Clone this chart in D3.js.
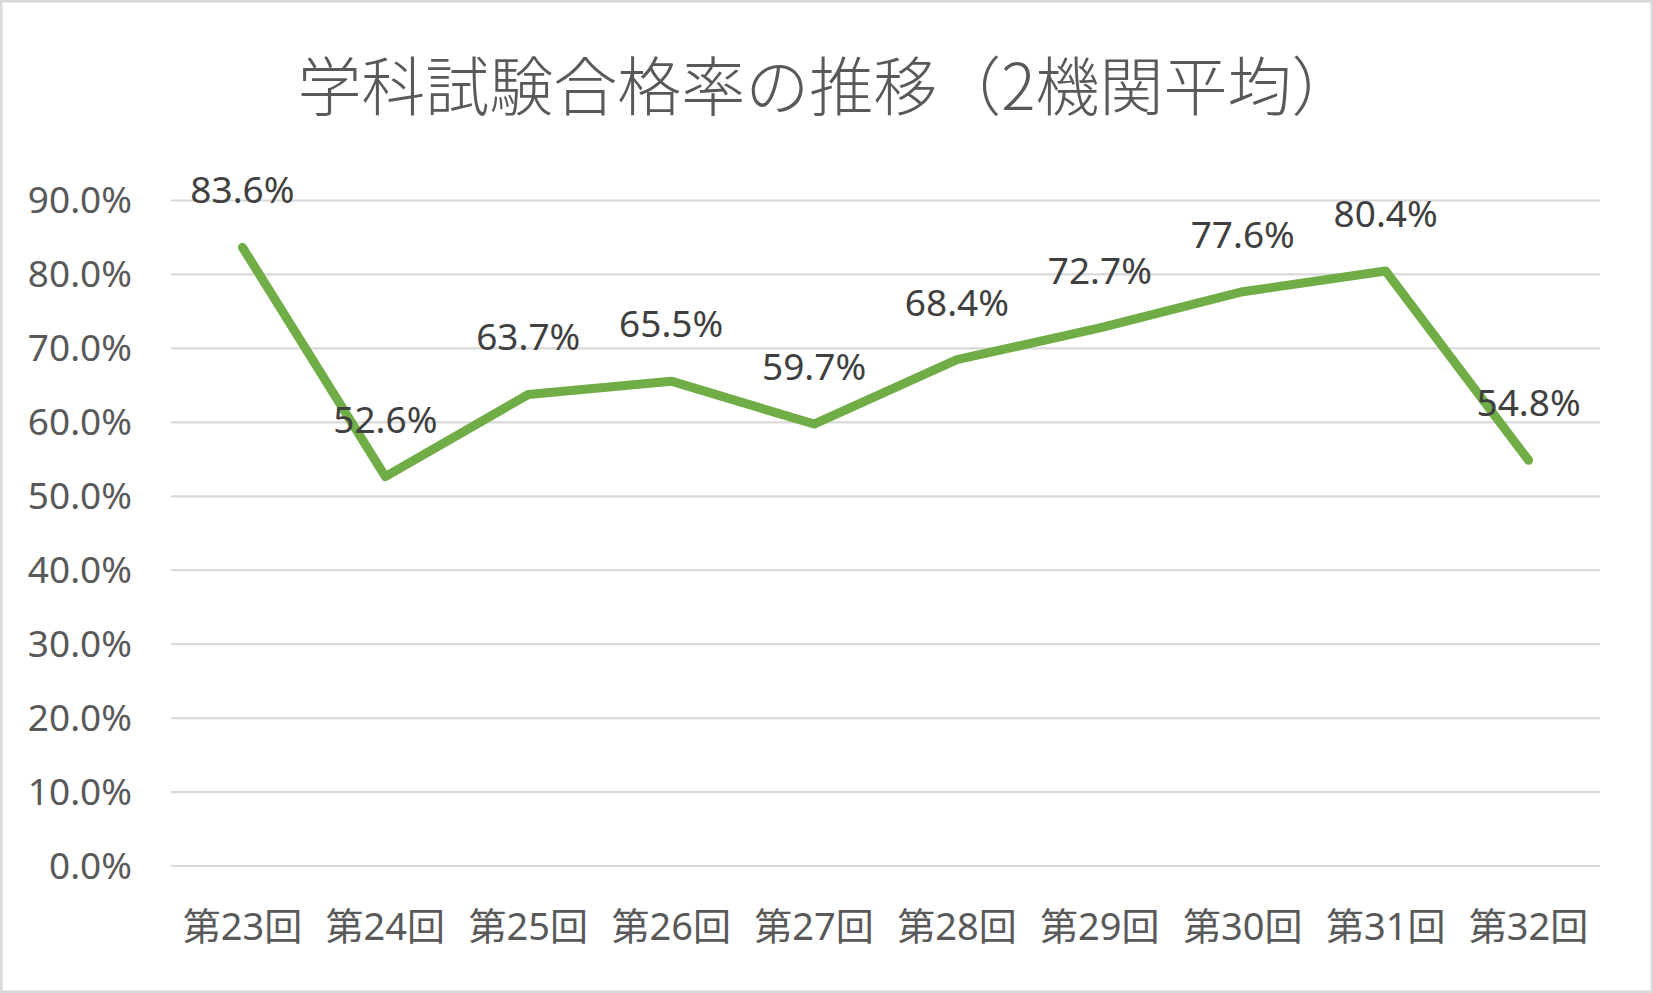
<!DOCTYPE html>
<html>
<head>
<meta charset="utf-8">
<script src="https://cdn.jsdelivr.net/npm/d3@7/dist/d3.min.js"></script>
<style>
  html, body { margin: 0; padding: 0; background: #fff; }
  svg { display: block; }
</style>
</head>
<body>
<script>
// データ
const title = "学科試験合格率の推移（2機関平均）";
const categories = ["第23回", "第24回", "第25回", "第26回", "第27回", "第28回", "第29回", "第30回", "第31回", "第32回"];
const passRate = [83.6, 52.6, 63.7, 65.5, 59.7, 68.4, 72.7, 77.6, 80.4, 54.8];
const yTicks = [0, 10, 20, 30, 40, 50, 60, 70, 80, 90];

const W = 1653, H = 993;
const margin = { left: 171, right: 53, top: 200, bottom: 127.5 };
const fontLatin = "'Noto Sans', 'Open Sans', 'Noto Sans CJK JP', sans-serif";

const svg = d3.select("body").append("svg")
  .attr("width", W)
  .attr("height", H);

// 枠
svg.append("rect")
  .attr("x", 1.25).attr("y", 1.25)
  .attr("width", W - 2.5).attr("height", H - 2.5)
  .attr("fill", "#fff")
  .attr("stroke", "#d9d9d9")
  .attr("stroke-width", 2.5);

const x = d3.scaleBand()
  .domain(categories)
  .range([margin.left, W - margin.right]);

const y = d3.scaleLinear()
  .domain([0, 90])
  .range([H - margin.bottom, margin.top]);

// タイトル
svg.append("text")
  .attr("x", W / 2)
  .attr("y", 110)
  .attr("text-anchor", "middle")
  .attr("font-family", "'Noto Sans CJK JP', sans-serif")
  .attr("font-weight", 300)
  .attr("font-size", 64)
  .attr("fill", "#595959")
  .text(title);

// 目盛線
const yAxis = d3.axisLeft(y)
  .tickValues(yTicks)
  .tickSize(-(W - margin.left - margin.right))
  .tickPadding(39)
  .tickFormat(d => d.toFixed(1) + "%");

const gy = svg.append("g")
  .attr("transform", "translate(" + margin.left + ",0)")
  .call(yAxis);
gy.select(".domain").remove();
gy.selectAll(".tick line")
  .attr("stroke", "#d9d9d9")
  .attr("stroke-width", 2.2);
gy.selectAll(".tick text")
  .attr("font-family", fontLatin)
  .attr("font-size", 37)
  .attr("fill", "#595959")
  .attr("dy", "0.35em");

// 横軸ラベル
const xAxis = d3.axisBottom(x)
  .tickSize(0)
  .tickPadding(0);
const gx = svg.append("g")
  .attr("transform", "translate(0," + (H - margin.bottom) + ")")
  .call(xAxis);
gx.select(".domain").remove();
gx.selectAll(".tick text")
  .attr("font-family", fontLatin)
  .attr("font-size", 38)
  .attr("fill", "#595959")
  .attr("dy", null)
  .attr("y", 74);

// 折れ線
const cx = d => x(d) + x.bandwidth() / 2;
const line = d3.line()
  .x((d, i) => cx(categories[i]))
  .y(d => y(d));

svg.append("path")
  .datum(passRate)
  .attr("fill", "none")
  .attr("stroke", "#70ad47")
  .attr("stroke-width", 9)
  .attr("stroke-linejoin", "round")
  .attr("stroke-linecap", "round")
  .attr("d", line);

// データラベル
svg.append("g")
  .selectAll("text")
  .data(passRate)
  .join("text")
  .attr("x", (d, i) => cx(categories[i]))
  .attr("y", d => y(d) - 44)
  .attr("text-anchor", "middle")
  .attr("font-family", fontLatin)
  .attr("font-size", 37)
  .attr("fill", "#404040")
  .text(d => d.toFixed(1) + "%");
</script>
</body>
</html>
